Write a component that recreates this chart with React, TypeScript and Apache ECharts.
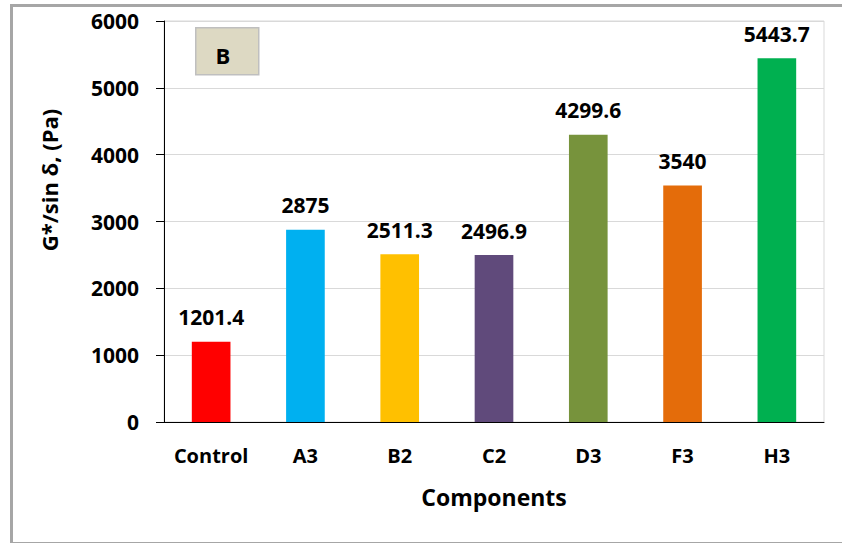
import React, { useEffect, useRef } from "react";
import * as echarts from "echarts";

const categories = ["Control", "A3", "B2", "C2", "D3", "F3", "H3"];
const values = [1201.4, 2875, 2511.3, 2496.9, 4299.6, 3540, 5443.7];
const valueLabels = ["1201.4", "2875", "2511.3", "2496.9", "4299.6", "3540", "5443.7"];
const barColors = ["#FF0000", "#00B0F0", "#FFC000", "#604A7B", "#77933C", "#E46C0A", "#00B050"];
const yTicks = [0, 1000, 2000, 3000, 4000, 5000, 6000];
const yTitle = "G*/sin δ, (Pa)";
const xTitle = "Components";
const panelLetter = "B";

const FONT = "'Open Sans', sans-serif";

export default function App() {
  const ref = useRef<HTMLDivElement>(null);
  useEffect(() => {
    if (!ref.current) return;
    const chart = echarts.init(ref.current, null, { renderer: "svg" });
    chart.setOption({
      animation: false,
      backgroundColor: "#ffffff",
      textStyle: { fontFamily: FONT },
      grid: {
        left: 164,
        top: 21,
        right: 18,
        bottom: 121,
        show: true,
        borderColor: "#d9d9d9",
        borderWidth: 1,
      },
      xAxis: {
        type: "category",
        data: categories,
        name: xTitle,
        nameLocation: "middle",
        nameGap: 63,
        nameTextStyle: { fontSize: 23, fontWeight: "bold", color: "#000", fontFamily: FONT },
        axisLine: { show: true, lineStyle: { color: "#000", width: 1 } },
        axisTick: { show: false },
        axisLabel: {
          interval: 0,
          fontSize: 20,
          fontWeight: "bold",
          color: "#000",
          margin: 23,
          fontFamily: FONT,
        },
        splitLine: { show: false },
      },
      yAxis: {
        type: "value",
        min: yTicks[0],
        max: yTicks[yTicks.length - 1],
        interval: 1000,
        axisLine: { show: true, lineStyle: { color: "#000", width: 1 } },
        axisTick: { show: true, length: 8, inside: false, lineStyle: { color: "#000" } },
        axisLabel: {
          fontSize: 21,
          fontWeight: "bold",
          color: "#000",
          margin: 25,
          fontFamily: FONT,
          formatter: (v: number) => String(v),
        },
        splitLine: { show: true, lineStyle: { color: "#d9d9d9", width: 1 } },
      },
      series: [
        {
          type: "bar",
          barWidth: "41%",
          data: values.map((v, i) => ({ value: v, itemStyle: { color: barColors[i] } })),
          label: {
            show: true,
            position: "top",
            distance: 14,
            fontSize: 21,
            fontWeight: "bold",
            color: "#000",
            fontFamily: FONT,
            formatter: (p: any) => valueLabels[p.dataIndex],
          },
        },
      ],
      graphic: [
        {
          type: "rect",
          left: 9,
          top: 3,
          shape: { width: 840, height: 538 },
          style: { fill: "none", stroke: "#a6a6a6", lineWidth: 3 },
          silent: true,
        },
        {
          type: "text",
          x: 49,
          y: 180,
          rotation: Math.PI / 2,
          style: {
            text: yTitle,
            fontSize: 22,
            fontWeight: "bold",
            fill: "#000",
            fontFamily: FONT,
            align: "center",
            verticalAlign: "middle",
          },
        },
        {
          type: "rect",
          left: 195,
          top: 27,
          shape: { width: 63, height: 47 },
          style: { fill: "#DDD9C3", stroke: "#bfbfbf", lineWidth: 1.5 },
          z: 10,
        },
        {
          type: "text",
          x: 223,
          y: 55,
          style: {
            text: panelLetter,
            fontSize: 22,
            fontWeight: "bold",
            fill: "#000",
            fontFamily: FONT,
            align: "center",
            verticalAlign: "middle",
          },
          z: 11,
        },
      ],
    });
    return () => chart.dispose();
  }, []);
  return (
    <div
      ref={ref}
      style={{ position: "fixed", left: 0, top: 0, width: 842, height: 543 }}
    />
  );
}
